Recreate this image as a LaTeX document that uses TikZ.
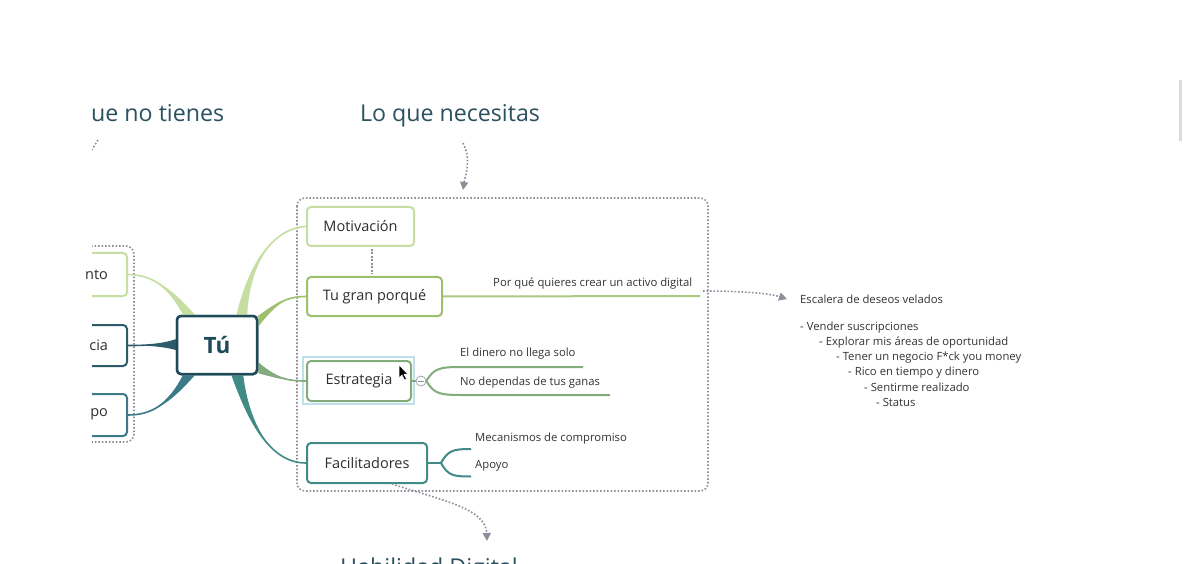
\documentclass[tikz,border=0pt]{standalone}
\usepackage{fontspec}
\setmainfont{Open Sans}
\usetikzlibrary{arrows.meta}
\definecolor{lgreen}{HTML}{C6DEA2}
\definecolor{mgreen}{HTML}{9DC06C}
\definecolor{sgreen}{HTML}{83AC7C}
\definecolor{fteal}{HTML}{428A85}
\definecolor{dteal}{HTML}{2D5B6A}
\definecolor{pteal}{HTML}{3C7A87}
\definecolor{tuc}{HTML}{1E4A5C}
\definecolor{titlec}{HTML}{2B5060}
\definecolor{txt}{HTML}{2E2E2E}
\definecolor{txtb}{HTML}{333333}
\definecolor{dotc}{HTML}{8A8F99}
\definecolor{selc}{HTML}{BFDFEC}
\newcommand\brfill[6]{\fill[#1] #2 .. controls #4 and #5 .. #6 .. controls #5 and #4 .. #3 -- cycle;
  \draw[#1,line width=1.6pt] #6 .. controls #5 and #4 .. #2;}
\tikzset{
  mbox/.style={draw, rounded corners=4pt, line width=2pt, fill=white, font=\fontsize{14.5}{17}\selectfont, text=txt, inner sep=0pt},
  small/.style={font=\fontsize{11.3}{14}\selectfont, text=txtb, inner sep=0pt, anchor=west},
  ttl/.style={font=\fontsize{23.2}{27}\selectfont, text=titlec, inner sep=0pt},
  dots/.style={draw=dotc, line width=1.6pt, dash pattern=on 1.6pt off 1.9pt},
  arr/.style={-{Triangle[length=8pt,width=8pt]}, dotc},
}
\begin{document}
\begin{tikzpicture}[x=1pt,y=-1pt]
\useasboundingbox[fill=white] (0,0) rectangle (1200,564);
\clip (0,0) rectangle (1200,564);

% titles
\node[ttl, anchor=west] (ltitle) at (91,113) {ue no tienes};
\node[ttl] (rtitle) at (450,116) {Lo que necesitas};
\node[ttl, anchor=north west] (btitle) at (340,558) {Habilidad Digital};

% scrollbar
\fill[black!14] (1179,80) rectangle (1182,141);

% main nodes
\node[mbox, draw=tuc, line width=2.5pt, minimum width=80pt, minimum height=58pt, font=\fontsize{22.5}{26}\selectfont\bfseries, text=tuc] (tu) at (217,345) {Tú};
\node[mbox, draw=lgreen, minimum width=107pt, minimum height=39pt] (mot) at (360.5,226.5) {Motivación};
\node[mbox, draw=mgreen, minimum width=135pt, minimum height=39pt] (tgp) at (374.5,296.5) {Tu gran porqué};
\draw[selc, line width=1.5pt] (303,357) rectangle (414,404);
\node[mbox, draw=sgreen, minimum width=104pt, minimum height=40pt] (est) at (359,381) {Estrategia};
\node[mbox, draw=fteal, minimum width=120pt, minimum height=40pt] (fac) at (367,463) {Facilitadores};

% left boxes (clipped)
\begin{scope}
\clip (92,0) rectangle (1200,564);
\node[mbox, draw=lgreen, minimum width=100pt, minimum height=43pt] (nto) at (77,274.5) {};
\node[mbox, draw=dteal, minimum width=100pt, minimum height=41pt] (cia) at (77,345.5) {};
\node[mbox, draw=pteal, minimum width=100pt, minimum height=42pt] (po) at (77,415) {};
\draw[dots, rounded corners=8pt] (70,246) -- (134,246) -- (134,442) -- (70,442);
\draw[dots] (98,140) -- (91,151);
\end{scope}
\node[mbox, draw=none, fill=none, anchor=east] (ntot) at (109,274.5) {nto};
\node[mbox, draw=none, fill=none, anchor=east] (ciat) at (109,345.5) {cia};
\node[mbox, draw=none, fill=none, anchor=east] (pot) at (109,414) {po};

% right dotted group
\draw[dots, rounded corners=8pt] (297,198) rectangle (708,491);

% branches
\brfill{lgreen}{([xshift=-21pt]tu.north east)}{([xshift=-11pt]tu.north east)}{(250,262)}{(274,228)}{(mot.west)}
\brfill{mgreen}{([yshift=-2pt]tu.north east)}{([yshift=-12pt]tu.north east)}{(276,304)}{(286,296.5)}{(tgp.west)}
\brfill{sgreen}{([yshift=12pt]tu.south east)}{([yshift=2pt]tu.south east)}{(276,378)}{(286,381)}{(est.west)}
\brfill{fteal}{([xshift=-26pt]tu.south east)}{([xshift=-15pt]tu.south east)}{(249,422)}{(270,463)}{(fac.west)}
\begin{scope}
\clip (92,0) rectangle (1200,564);
\brfill{lgreen}{([xshift=8pt]tu.north west)}{([xshift=19pt]tu.north west)}{(168,284)}{(150,275)}{(nto.east)}
\brfill{dteal}{([yshift=5pt]tu.west)}{([yshift=-5pt]tu.west)}{(160,345.5)}{(140,345.5)}{(cia.east)}
\brfill{pteal}{([xshift=8pt]tu.south west)}{([xshift=19pt]tu.south west)}{(168,406)}{(150,415)}{(po.east)}
\end{scope}
% redraw the centre box over the branch starts
\node[mbox, draw=tuc, line width=2.5pt, minimum width=80pt, minimum height=58pt, font=\fontsize{22.5}{26}\selectfont\bfseries, text=tuc] at (217,345) {Tú};

% Motivacion - Tu gran porque dotted link
\draw[dots] ([xshift=11.5pt,yshift=-2pt]mot.south) -- ([xshift=-2.5pt,yshift=2pt]tgp.north);

% Tu gran porque child
\coordinate (pq) at (700,296);
\draw[mgreen!85, line width=2pt] (tgp.east) -- (pq);
\node[small] (pqt) at (493,284) {Por qué quieres crear un activo digital};
\node[small, anchor=west] (esc) at (800,299) {Escalera de deseos velados};
\draw[dots, arr] (703,291) .. controls (740,291) and (768,293) .. (esc.west -| 787,298);
\node[small] (l1) at (800,328) {- Vender suscripciones};
\node[small] (l2) at (819,343) {- Explorar mis áreas de oportunidad};
\node[small] (l3) at (836,358) {- Tener un negocio F*ck you money};
\node[small] (l4) at (848,372.5) {- Rico en tiempo y dinero};
\node[small] (l5) at (864,387.5) {- Sentirme realizado};
\node[small] (l6) at (876,402) {- Status};

% Estrategia children
\node[circle, draw=dotc!80, fill=white, line width=0.8pt, minimum size=10pt, inner sep=0pt] (col) at (421,381) {};
\draw[dotc, line width=0.8pt] ([xshift=-2.8pt]col.center) -- ([xshift=2.8pt]col.center);
\draw[sgreen, line width=2pt] (est.east) -- (col.west);
\coordinate (e1) at (583,367);
\coordinate (e2) at (610,395);
\draw[sgreen, line width=2pt] (col.east) .. controls (434,368) and (440,367) .. (462,367) -- (e1);
\draw[sgreen, line width=2pt] (col.east) .. controls (434,394) and (440,395) .. (462,395) -- (e2);
\node[small] (e1t) at (460,354) {El dinero no llega solo};
\node[small] (e2t) at (460,383) {No dependas de tus ganas};

% Facilitadores children
\coordinate (f0) at (441,463);
\coordinate (f1) at (471,449);
\coordinate (f2) at (471,476.5);
\draw[fteal, line width=2pt] (fac.east) -- (f0);
\draw[fteal, line width=2pt] (f0) .. controls (448,450) and (454,449) .. (f1);
\draw[fteal, line width=2pt] (f0) .. controls (448,476) and (454,476.5) .. (f2);
\node[small] (f1t) at (475,438.5) {Mecanismos de compromiso};
\node[small] (f2t) at (475,465.5) {Apoyo};

% dotted arrows
\coordinate (na) at (463,190);
\draw[dots, arr] (463,143) .. controls (472,160) and (465,176) .. (na);
\coordinate (ha) at (487,541);
\draw[dots, arr] ([xshift=25pt]fac.south) .. controls (440,500) and (486,508) .. (ha);

% cursor
\filldraw[fill=black, draw=white, line width=0.6pt] (399,365) -- (399,378) -- (402,375) -- (404.5,380) -- (406.5,379) -- (404,374.2) -- (408,374.2) -- cycle;
\end{tikzpicture}
\end{document}
